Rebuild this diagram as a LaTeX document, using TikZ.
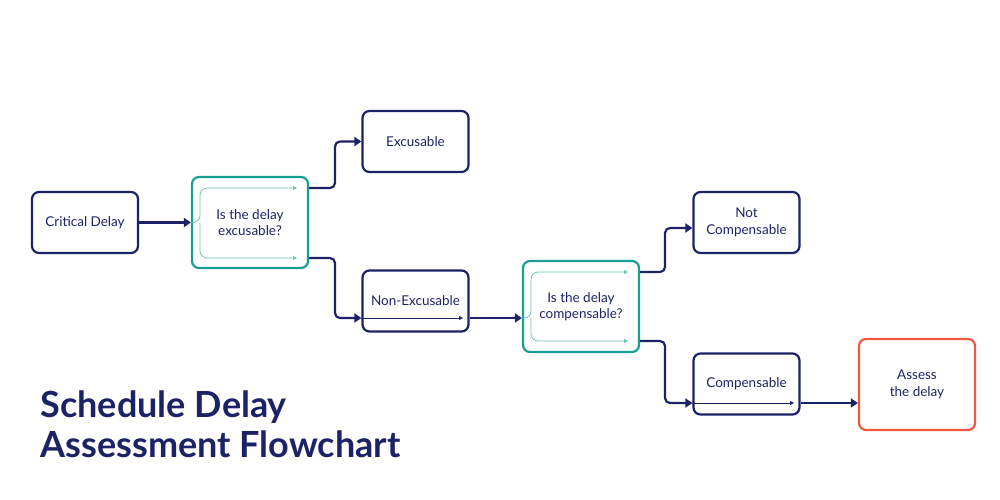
\documentclass[tikz,border=0pt]{standalone}
\usepackage{fontspec}
\setmainfont{Lato}
\usetikzlibrary{arrows.meta}
\definecolor{navy}{HTML}{1B2366}
\definecolor{teal2}{HTML}{17A091}
\definecolor{lteal}{HTML}{6CC4B8}
\definecolor{orng}{HTML}{F2583E}
\begin{document}
\begin{tikzpicture}[x=1pt,y=-1pt,
 box/.style={draw=navy,line width=2.2pt,rounded corners=7pt,minimum width=106pt,minimum height=61pt,align=center,text=navy,font=\fontsize{13.5}{16.5}\selectfont},
 dec/.style={box,draw=teal2,minimum width=116pt,minimum height=91pt},
 fin/.style={box,draw=orng,minimum width=116pt,minimum height=91pt},
 conn/.style={draw=navy,line width=2.2pt,rounded corners=5pt,-{Triangle[length=7pt,width=9pt]}},
 thin/.style={line width=0.8pt,rounded corners=7pt,-{Triangle[length=4pt,width=4pt]}}]
\useasboundingbox (0,0) rectangle (1000,500);
\node[box] (cd) at (85,222.5) {Critical Delay};
\node[dec] (d1) at (250,222.5) {Is the delay\\excusable?};
\node[box] (ex) at (415.5,141.5) {Excusable};
\node[box] (ne) at (415.5,301) {Non-Excusable};
\node[dec] (d2) at (581,306.5) {Is the delay\\compensable?};
\node[box] (nc) at (746.5,222.5) {Not\\Compensable};
\node[box] (co) at (746.5,384) {Compensable};
\node[fin] (as) at (917,384.5) {Assess\\the delay};
\draw[conn] (cd.east) -- (d1.west);
\draw[conn] (d1.east|-0,188) -| (335,141.5) -- (ex.west);
\draw[conn] (d1.east|-0,258) -| (335,318) -- (ne.west|-0,318);
\draw[conn] (ne.east|-0,318) -- (d2.west|-0,318);
\draw[conn] (d2.east|-0,272) -| (665,228) -- (nc.west|-0,228);
\draw[conn] (d2.east|-0,341) -| (665,403) -- (co.west|-0,403);
\draw[conn] (co.east|-0,403) -- (as.west|-0,403);
\draw[thin,draw=lteal] (d1.west) -- (200,222.5) |- (297,188);
\draw[thin,draw=lteal] (200,222.5) |- (297,258);
\draw[thin,draw=lteal] (d2.west|-0,318) -- (531,318) |- (628,272);
\draw[thin,draw=lteal] (531,318) |- (628,341);
\draw[thin,draw=navy] (ne.west|-0,318) -- (463,318);
\draw[thin,draw=navy] (co.west|-0,403) -- (794,403);
\node[anchor=west,text=navy,font=\bfseries\fontsize{36}{40}\selectfont,align=left] (t) at (37,424) {Schedule Delay\\Assessment Flowchart};
\end{tikzpicture}
\end{document}
